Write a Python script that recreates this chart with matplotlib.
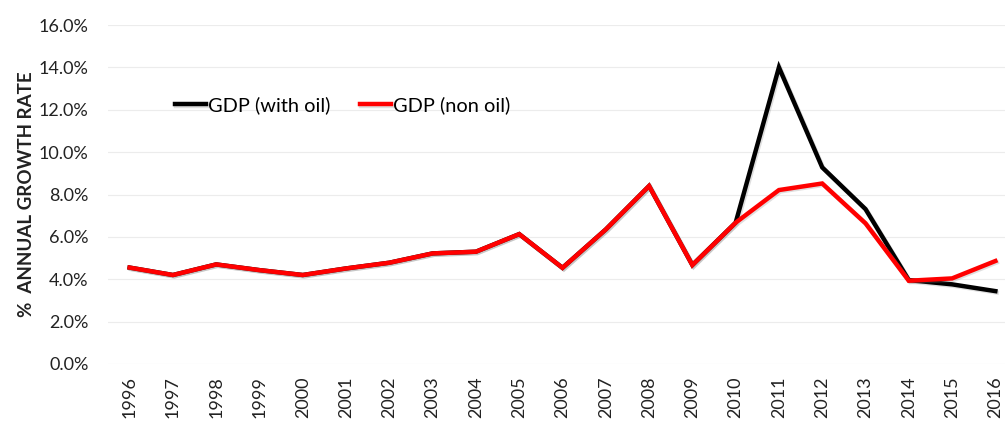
import matplotlib
matplotlib.use('Agg')
import matplotlib.pyplot as plt
import matplotlib.patheffects as pe
from matplotlib.ticker import FuncFormatter

plt.rcParams['font.family'] = ['Lato', 'DejaVu Sans']

years = ['1996', '1997', '1998', '1999', '2000', '2001', '2002', '2003', '2004', '2005', '2006',
         '2007', '2008', '2009', '2010', '2011', '2012', '2013', '2014', '2015', '2016']
gdp_with_oil = [4.55, 4.2, 4.7, 4.43, 4.2, 4.51, 4.78, 5.22, 5.3, 6.13, 4.54,
                6.35, 8.4, 4.67, 6.67, 14.0, 9.28, 7.31, 3.96, 3.76, 3.44]
gdp_non_oil = [4.55, 4.2, 4.7, 4.43, 4.2, 4.51, 4.78, 5.22, 5.3, 6.13, 4.54,
               6.35, 8.4, 4.67, 6.67, 8.21, 8.52, 6.64, 3.93, 4.04, 4.86]

fig = plt.figure(figsize=(10.05, 4.22), dpi=100)
ax = fig.add_axes([108 / 1005, (422 - 364) / 422, 909 / 1005, 339 / 422])

shadow = [pe.SimpleLineShadow(offset=(1, -1), alpha=0.25, shadow_color='gray'), pe.Normal()]
x = range(len(years))
ax.plot(x, gdp_with_oil, color='black', lw=3.2, label='GDP (with oil)',
        solid_joinstyle='miter', path_effects=shadow)
ax.plot(x, gdp_non_oil, color='#ff0000', lw=3.2, label='GDP (non oil)',
        solid_joinstyle='miter', path_effects=shadow)

ax.set_xlim(-0.5, len(years) - 0.5)
ax.set_ylim(0, 16)
ax.set_yticks(range(0, 17, 2))
ax.yaxis.set_major_formatter(FuncFormatter(lambda v, p: f'{v:.1f}%'))
ax.set_xticks(list(x))
ax.set_xticklabels(years, rotation=90)
ax.tick_params(axis='both', length=0, labelsize=13, colors='#222222')
ax.tick_params(axis='y', pad=14)
ax.tick_params(axis='x', pad=9)
ax.grid(axis='y', color='#ececec', lw=0.8)
ax.set_axisbelow(True)
for s in ax.spines.values():
    s.set_visible(False)

ax.set_ylabel('%  ANNUAL GROWTH RATE', fontsize=13.5, fontweight='bold', color='#222222')
ax.yaxis.set_label_coords(-0.08, 0.5)

ax.legend(loc='center left', bbox_to_anchor=(0.054, 0.763), ncol=2, frameon=False,
          fontsize=14.4, handlelength=1.55, handletextpad=0.12, columnspacing=1.45)

fig.savefig('out.png', dpi=100)
